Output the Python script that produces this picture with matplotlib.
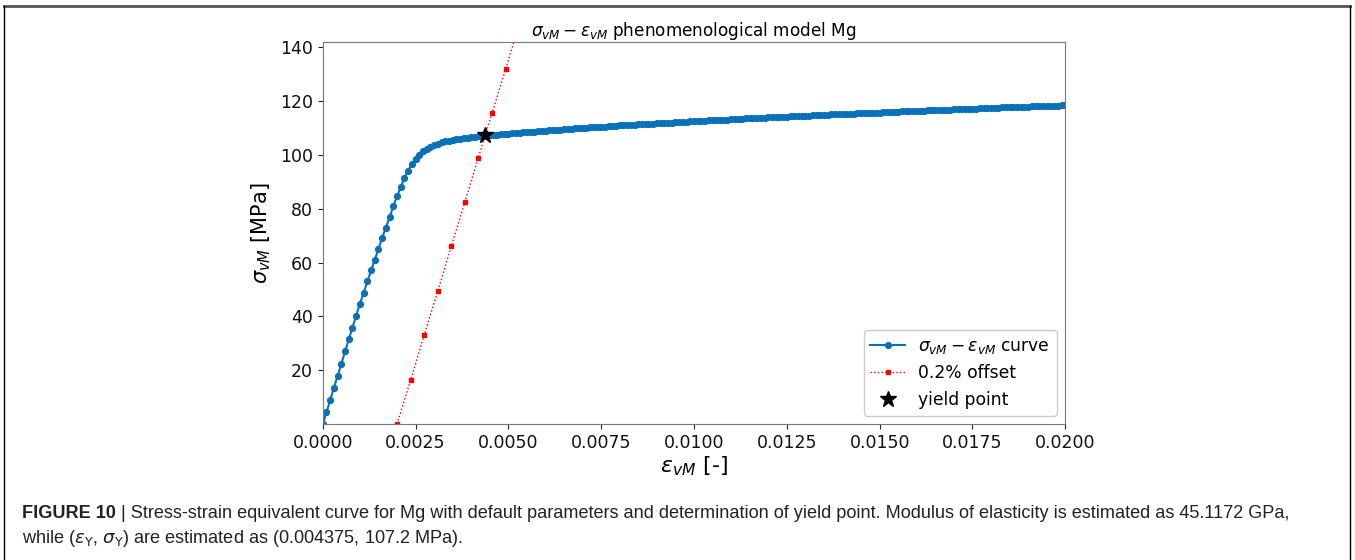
import matplotlib
matplotlib.use('Agg')
import matplotlib.pyplot as plt
from matplotlib.lines import Line2D
import numpy as np

# equivalent stress, one marker every 0.0001 strain
STRAIN_STEP = 0.0001
stress_curve = [
    0.0, 4.4, 8.9, 13.5, 17.9, 22.4, 27.0, 31.5, 35.9, 40.2,
    44.7, 48.8, 53.0, 57.1, 61.1, 65.1, 69.2, 73.0, 76.8, 80.9,
    84.6, 88.1, 91.4, 94.1, 96.6, 98.4, 100.1, 101.3, 102.2, 102.9,
    103.6, 104.2, 104.6, 105.0, 105.3, 105.6, 105.8, 106.0, 106.2, 106.4,
    106.6, 106.8, 106.9, 107.1, 107.2, 107.3, 107.4, 107.5, 107.6, 107.7,
    107.9, 108.0, 108.1, 108.2, 108.3, 108.4, 108.5, 108.6, 108.7, 108.9,
    109.0, 109.1, 109.2, 109.3, 109.4, 109.5, 109.6, 109.7, 109.8, 109.9,
    110.0, 110.1, 110.2, 110.3, 110.4, 110.5, 110.5, 110.6, 110.7, 110.8,
    110.9, 111.0, 111.1, 111.1, 111.2, 111.3, 111.4, 111.5, 111.5, 111.6,
    111.7, 111.8, 111.9, 111.9, 112.0, 112.1, 112.2, 112.3, 112.3, 112.4,
    112.5, 112.6, 112.6, 112.7, 112.8, 112.9, 112.9, 113.0, 113.1, 113.1,
    113.2, 113.3, 113.4, 113.4, 113.5, 113.6, 113.6, 113.7, 113.8, 113.8,
    113.9, 114.0, 114.0, 114.1, 114.2, 114.2, 114.3, 114.4, 114.4, 114.5,
    114.5, 114.6, 114.7, 114.7, 114.8, 114.8, 114.9, 115.0, 115.0, 115.1,
    115.1, 115.2, 115.3, 115.3, 115.4, 115.4, 115.5, 115.6, 115.6, 115.7,
    115.7, 115.8, 115.9, 115.9, 116.0, 116.0, 116.1, 116.2, 116.2, 116.3,
    116.3, 116.4, 116.4, 116.5, 116.5, 116.6, 116.7, 116.7, 116.8, 116.8,
    116.9, 116.9, 117.0, 117.0, 117.1, 117.2, 117.2, 117.3, 117.3, 117.4,
    117.4, 117.5, 117.5, 117.6, 117.6, 117.7, 117.7, 117.8, 117.8, 117.9,
    117.9, 118.0, 118.0, 118.1, 118.1, 118.2, 118.2, 118.3, 118.3, 118.4,
    118.4,
]
strain_curve = np.arange(len(stress_curve)) * STRAIN_STEP

# 0.2% offset line
offset_strain = [0.00200, 0.00237, 0.00273, 0.00310, 0.00346,
                 0.00383, 0.00419, 0.00456, 0.00493, 0.00529]
offset_stress = [0.0, 16.5, 33.0, 49.5, 66.0, 82.5, 99.0, 115.5, 132.0, 148.5]

yield_strain = 0.004375
yield_stress = 107.2

xticks = [0.0, 0.0025, 0.005, 0.0075, 0.01, 0.0125, 0.015, 0.0175, 0.02]
yticks = [20, 40, 60, 80, 100, 120, 140]

BLUE = '#0a71b8'

fig = plt.figure(figsize=(13.55, 5.6), dpi=100)
ax = fig.add_axes([0.2382, 0.2425, 0.548, 0.683])

ax.plot(strain_curve, stress_curve, color=BLUE, marker='o', markersize=4.2,
        linewidth=1.5, label=r'$\sigma_{vM} - \varepsilon_{vM}$ curve')
ax.plot(offset_strain, offset_stress, color='red', linestyle=':', marker='s',
        markersize=2.6, linewidth=1.0, label='0.2% offset')
ax.plot([yield_strain], [yield_stress], linestyle='none', marker='*',
        color='black', markersize=12, label='yield point')

ax.set_xlim(0, 0.02)
ax.set_ylim(0, 142)
ax.set_xticks(xticks)
ax.set_xticklabels(['%.4f' % t for t in xticks])
ax.set_yticks(yticks)
ax.tick_params(labelsize=12.5, colors='#222222', labelcolor='#111111')
for s in ax.spines.values():
    s.set_color('#777777')

ax.set_title(r'$\sigma_{vM} - \varepsilon_{vM}$ phenomenological model Mg', fontsize=12.2, pad=4)
ax.set_xlabel(r'$\varepsilon_{vM}$ [-]', fontsize=16, labelpad=2)
ax.set_ylabel(r'$\sigma_{vM}$ [MPa]', fontsize=15, labelpad=5)

ax.legend(loc='lower right', fontsize=12.3, framealpha=1)

# frame around the figure (open at the bottom)
fig.add_artist(Line2D([4 / 1355, 1349.5 / 1355], [1 - 5.5 / 560, 1 - 5.5 / 560],
                      transform=fig.transFigure, color='#555555', linewidth=2))
fig.add_artist(Line2D([4 / 1355, 4 / 1355], [0, 1 - 5.5 / 560],
                      transform=fig.transFigure, color='black', linewidth=1))
fig.add_artist(Line2D([1349.5 / 1355, 1349.5 / 1355], [0, 1 - 5.5 / 560],
                      transform=fig.transFigure, color='black', linewidth=1))

# caption
cap_font = 'Liberation Sans'
cap_size = 13.1
x0 = 22 / 1355
t1 = fig.text(x0, 1 - 518 / 560, 'FIGURE 10', fontsize=cap_size, fontweight='bold',
              family=cap_font, va='baseline', color='#222222')
fig.canvas.draw()
r = fig.canvas.get_renderer()
bb = t1.get_window_extent(r)
fig.text(bb.x1 / 1355, 1 - 518 / 560,
         ' | Stress-strain equivalent curve for Mg with default parameters and determination '
         'of yield point. Modulus of elasticity is estimated as 45.1172 GPa,',
         fontsize=cap_size, family=cap_font, va='baseline', color='#222222')
fig.text(x0, 1 - 543 / 560,
         r'while ($\varepsilon_{\rm Y}$, $\sigma_{\rm Y}$) are estimated as (0.004375, 107.2 MPa).',
         fontsize=cap_size, family=cap_font, va='baseline', color='#222222')

fig.savefig('out.png', dpi=100)
